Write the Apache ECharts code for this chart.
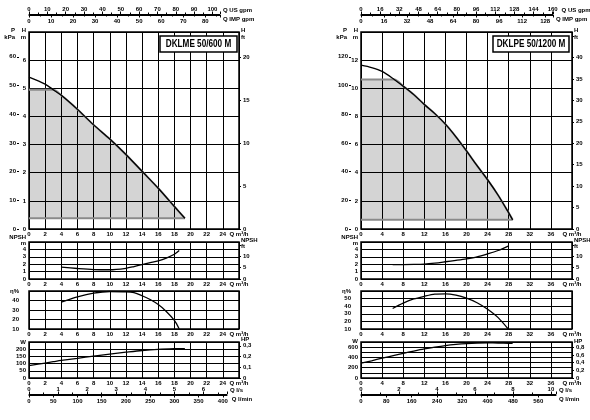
<!DOCTYPE html>
<html>
<head>
<meta charset="utf-8">
<title>DKLME 50/600 M - DKLPE 50/1200 M</title>
<script src="https://cdn.jsdelivr.net/npm/echarts@6/dist/echarts.min.js"></script>
<style>
html, body { margin: 0; padding: 0; background: #fff; }
#chart { width: 590px; height: 420px; }
</style>
</head>
<body>
<div id="chart"></div>
<script>
// DKLME 50/600 M (left sheet)
const lmeQ = [0, 2, 3, 4, 6, 8, 10, 12, 14, 16, 18, 19.3];
const lmeHead = [5.4, 5.15, 4.95, 4.75, 4.25, 3.7, 3.2, 2.65, 2.05, 1.45, 0.8, 0.38];
const lmePower = [86, 104, 113, 122, 137, 152, 166, 179, 191, 199, 203, 204];
const lmeQ2 = [4, 6, 8, 10, 12, 13, 14, 15, 16, 17, 18, 18.6];
const lmeNpsh = [1.6, 1.42, 1.28, 1.25, 1.45, 1.68, 1.95, 2.2, 2.45, 2.83, 3.35, 3.85];
const lmeEta = [38.2, 43.8, 47.8, 49.5, 49.2, 48.2, 45, 41, 35.7, 28.5, 19, 10];
const lmeBandTop = 4.95, lmeBandEnd = 3, lmeBandBase = 0.38;

// DKLPE 50/1200 M (right sheet)
const lpeQ = [0, 2, 4, 6.3, 8, 10, 12, 14, 16, 18, 20, 22, 24, 26, 28, 28.75];
const lpeHead = [11.64, 11.47, 11.2, 10.63, 10.15, 9.55, 8.85, 8.2, 7.45, 6.55, 5.55, 4.5, 3.5, 2.4, 1.15, 0.65];
const lpePower = [287, 335, 385, 440, 480, 524, 565, 600, 630, 652, 668, 678, 683, 681, 676, 672];
const lpeQ2 = [6, 8, 10, 12, 14, 16, 18, 20, 22, 24, 26, 27.9];
const lpeNpsh = [1.95, 1.95, 1.97, 2.02, 2.15, 2.33, 2.52, 2.73, 3.0, 3.4, 3.85, 4.45];
const lpeEta = [37, 44, 49.5, 53, 55.8, 56.3, 54.5, 50.5, 44.5, 36, 25, 10];
const lpeBandTop = 10.63, lpeBandEnd = 6.3, lpeBandBase = 0.65;

// unit conversions
const M3H_PER_USGPM = 0.227125;
const M3H_PER_IMPGPM = 0.272766;
const M3H_PER_LS = 3.6;
const M3H_PER_LMIN = 0.06;
const KPA_PER_M = 9.80665;
const FT_PER_M = 3.28084;
const W_PER_HP = 745.7;

const panels = [
  {
    title: 'DKLME 50/600 M', left: 29, width: 210, topW: 191, botW: 198, boxX: 160, boxW: 77,
    qMax: 26, qStep: 2, hMax: 7, hStep: 1, kpaStep: 10, ftLabelMax: 20,
    etaMax: 50, wMax: 250, wStep: 50, wLabel: 50, hpStep: 0.1,
    gpmStep: 10, impStep: 10, lsStep: 1, lminStep: 50,
    q: lmeQ, head: lmeHead, power: lmePower, q2: lmeQ2, npsh: lmeNpsh, eta: lmeEta,
    bandTop: lmeBandTop, bandEnd: lmeBandEnd, bandBase: lmeBandBase
  },
  {
    title: 'DKLPE 50/1200 M', left: 361, width: 211, topW: 192, botW: 195, boxX: 493, boxW: 76,
    qMax: 40, qStep: 4, hMax: 14, hStep: 2, kpaStep: 20, ftLabelMax: 40,
    etaMax: 60, wMax: 700, wStep: 100, wLabel: 200, hpStep: 0.2,
    gpmStep: 16, impStep: 16, lsStep: 2, lminStep: 80,
    q: lpeQ, head: lpeHead, power: lpePower, q2: lpeQ2, npsh: lpeNpsh, eta: lpeEta,
    bandTop: lpeBandTop, bandEnd: lpeBandEnd, bandBase: lpeBandBase
  }
];

const rows = { flowTop: 14, main: [32, 197], npsh: [242, 37], eta: [291, 38], power: [342, 36], flowBottom: 394 };

const FONT = 'Liberation Sans, Arial, Helvetica, sans-serif';
const txt = { color: '#000', fontSize: 6, fontWeight: 'bold', fontFamily: FONT };
const black = { color: '#000', width: 1 };

const grids = [], xAxes = [], yAxes = [], series = [], graphics = [];

function addGrid(left, top, width, height, show) {
  grids.push({ left, top, width, height, show, borderColor: '#000', borderWidth: 1.5,
    backgroundColor: 'transparent', containLabel: false, outerBoundsMode: 'none' });
  return grids.length - 1;
}

function pushX(ax) { xAxes.push(ax); return xAxes.length - 1; }
function pushY(ax) { yAxes.push(ax); return yAxes.length - 1; }

// flow axis sitting on a 1px high grid (labels above or below the line)
function flowAxis(g, pos, max, step, name, minor, labelsUp) {
  return {
    gridIndex: g, type: 'value', position: pos, min: 0, max, interval: step,
    axisLine: { show: true, onZero: false, lineStyle: black },
    axisTick: { show: true, length: 2.5, lineStyle: black },
    minorTick: { show: minor, splitNumber: 2, length: 1.5, lineStyle: black },
    axisLabel: { ...txt, margin: labelsUp ? 2 : 3, showMaxLabel: false },
    splitLine: { show: false },
    name, nameLocation: 'end', nameGap: 3,
    nameTextStyle: { ...txt, align: 'left', verticalAlign: labelsUp ? 'bottom' : 'top',
      padding: labelsUp ? [0, 0, 1, 0] : [1, 0, 0, 0] }
  };
}

function qAxis(g, p) {
  return {
    gridIndex: g, type: 'value', min: 0, max: p.qMax, interval: p.qStep,
    axisLine: { show: false }, axisTick: { show: false },
    axisLabel: { ...txt, margin: 2, showMaxLabel: true,
      formatter: v => (v === p.qMax ? 'Q m³/h' : String(v)) },
    splitLine: { show: true, lineStyle: black }
  };
}

function leftAxis(g, min, max, step, name, margin, extra) {
  return Object.assign({
    gridIndex: g, type: 'value', position: 'left', min, max, interval: step,
    axisLine: { show: false }, axisTick: { show: false },
    axisLabel: { ...txt, margin, showMaxLabel: false },
    splitLine: { show: true, lineStyle: { color: '#000', width: 1.2 } },
    name, nameLocation: 'end', nameGap: -2,
    nameTextStyle: { ...txt, align: 'right', verticalAlign: 'middle', lineHeight: 6.5, padding: [0, margin, 0, 0] }
  }, extra || {});
}

function rightAxis(g, max, step, name, formatter) {
  return {
    gridIndex: g, type: 'value', position: 'right', min: 0, max, interval: step,
    axisLine: { show: false },
    axisTick: { show: true, length: 2, lineStyle: black },
    axisLabel: { ...txt, margin: 4, showMaxLabel: false, formatter },
    splitLine: { show: false },
    name, nameLocation: 'end', nameGap: -2,
    nameTextStyle: { ...txt, align: 'left', verticalAlign: 'middle', lineHeight: 6.5, padding: [0, 0, 0, 2] }
  };
}

function curve(xi, yi, q, v, extra) {
  return Object.assign({
    type: 'line', xAxisIndex: xi, yAxisIndex: yi,
    data: q.map((x, i) => [x, v[i]]),
    symbol: 'none', smooth: 0.3, silent: true, z: 5,
    lineStyle: { color: '#000', width: 1.3 }
  }, extra || {});
}

function hiddenY(g) {
  return { gridIndex: g, type: 'value', show: false, min: 0, max: 1, splitLine: { show: false } };
}

panels.forEach((p) => {
  const L = p.left, W = p.width;
  const pxPerQ = W / p.qMax;

  // top flow scale: US gpm above, IMP gpm below
  let g = addGrid(L, rows.flowTop, p.topW, 1, false);
  pushY(hiddenY(g));
  const qTop = p.topW / pxPerQ;
  pushX(flowAxis(g, 'top', qTop / M3H_PER_USGPM, p.gpmStep, 'Q US gpm', true, true));
  pushX(flowAxis(g, 'bottom', qTop / M3H_PER_IMPGPM, p.impStep, 'Q IMP gpm', true, false));

  // head chart
  g = addGrid(L, rows.main[0], W, rows.main[1], true);
  let xi = pushX(qAxis(g, p));
  const hi = pushY(leftAxis(g, 0, p.hMax, p.hStep, 'H\nm', 3));
  pushY({
    gridIndex: g, type: 'value', position: 'left', offset: 12, min: 0, max: p.hMax * KPA_PER_M, interval: p.kpaStep,
    axisLine: { show: false },
    axisTick: { show: true, inside: true, length: 2, lineStyle: black },
    axisLabel: { ...txt, margin: 1, showMaxLabel: false },
    splitLine: { show: false },
    name: 'P\nkPa', nameLocation: 'end', nameGap: -2,
    nameTextStyle: { ...txt, align: 'right', verticalAlign: 'middle', lineHeight: 6.5, padding: [0, 2, 0, 0] }
  });
  pushY(rightAxis(g, p.hMax * FT_PER_M, 5, 'H\nft', v => (v <= p.ftLabelMax ? String(v) : '')));

  // operating range band: flat top, then the head curve, down to the base line
  const bandQ = [0, p.bandEnd].concat(p.q.filter(q => q > p.bandEnd));
  const bandTop = [p.bandTop, p.bandTop].concat(p.head.filter((h, i) => p.q[i] > p.bandEnd));
  series.push(curve(xi, hi, bandQ, bandTop,
    { z: 3, lineStyle: { color: '#8a8a8a', width: 2 },
      areaStyle: { color: 'rgba(0,0,0,0.17)', opacity: 1, origin: p.bandBase } }));
  series.push(curve(xi, hi, [0, bandQ[bandQ.length - 1]], [p.bandBase, p.bandBase],
    { z: 3, smooth: false, lineStyle: { color: '#8a8a8a', width: 2 } }));
  series.push(curve(xi, hi, p.q, p.head));

  // NPSH
  g = addGrid(L, rows.npsh[0], W, rows.npsh[1], true);
  xi = pushX(qAxis(g, p));
  let yi = pushY(leftAxis(g, 0, 5, 1, 'NPSH\nm', 3, { nameGap: -1.5 }));
  yAxes[yi].nameTextStyle.lineHeight = 6;
  pushY(rightAxis(g, 5 * FT_PER_M, 5, 'NPSH\nft', v => (v <= 10 ? String(v) : '')));
  yAxes[yAxes.length - 1].nameGap = -1.5;
  yAxes[yAxes.length - 1].nameTextStyle.lineHeight = 6;
  series.push(curve(xi, yi, p.q2, p.npsh));

  // efficiency
  g = addGrid(L, rows.eta[0], W, rows.eta[1], true);
  xi = pushX(qAxis(g, p));
  yi = pushY(leftAxis(g, 10, p.etaMax, 10, 'η%', 10, { nameGap: 0 }));
  series.push(curve(xi, yi, p.q2, p.eta));

  // power input
  g = addGrid(L, rows.power[0], W, rows.power[1], true);
  xi = pushX(qAxis(g, p));
  yi = pushY(leftAxis(g, 0, p.wMax, p.wStep, 'W', 3, { nameGap: 0 }));
  yAxes[yi].axisLabel.formatter = v => (v % p.wLabel === 0 ? String(v) : '');
  pushY(rightAxis(g, p.wMax / W_PER_HP, p.hpStep, 'HP',
    v => (v === 0 ? '0' : v.toFixed(1).replace('.', ','))));
  yAxes[yAxes.length - 1].nameGap = 0;
  series.push(curve(xi, yi, p.q, p.power));

  // bottom flow scale: l/s above, l/min below
  g = addGrid(L, rows.flowBottom, p.botW, 1, false);
  pushY(hiddenY(g));
  const qBot = p.botW / pxPerQ;
  pushX(flowAxis(g, 'top', qBot / M3H_PER_LS, p.lsStep, 'Q l/s', true, true));
  pushX(flowAxis(g, 'bottom', qBot / M3H_PER_LMIN, p.lminStep, 'Q l/min', false, false));

  // model box
  graphics.push({
    type: 'rect', shape: { x: p.boxX, y: 36, width: p.boxW, height: 16 },
    style: { fill: '#fff', stroke: '#000', lineWidth: 1.5 }, z: 10
  });
  graphics.push({
    type: 'text', x: p.boxX + p.boxW / 2, y: 44.5, scaleX: 0.78, z: 11,
    style: { text: p.title, font: 'bold 10.5px ' + FONT, fill: '#000', align: 'center', verticalAlign: 'middle' }
  });
});

const chart = echarts.init(document.getElementById('chart'), null, { renderer: 'canvas' });
chart.setOption({
  backgroundColor: '#fff',
  animation: false,
  grid: grids,
  xAxis: xAxes,
  yAxis: yAxes,
  series,
  graphic: graphics
});
</script>
</body>
</html>
